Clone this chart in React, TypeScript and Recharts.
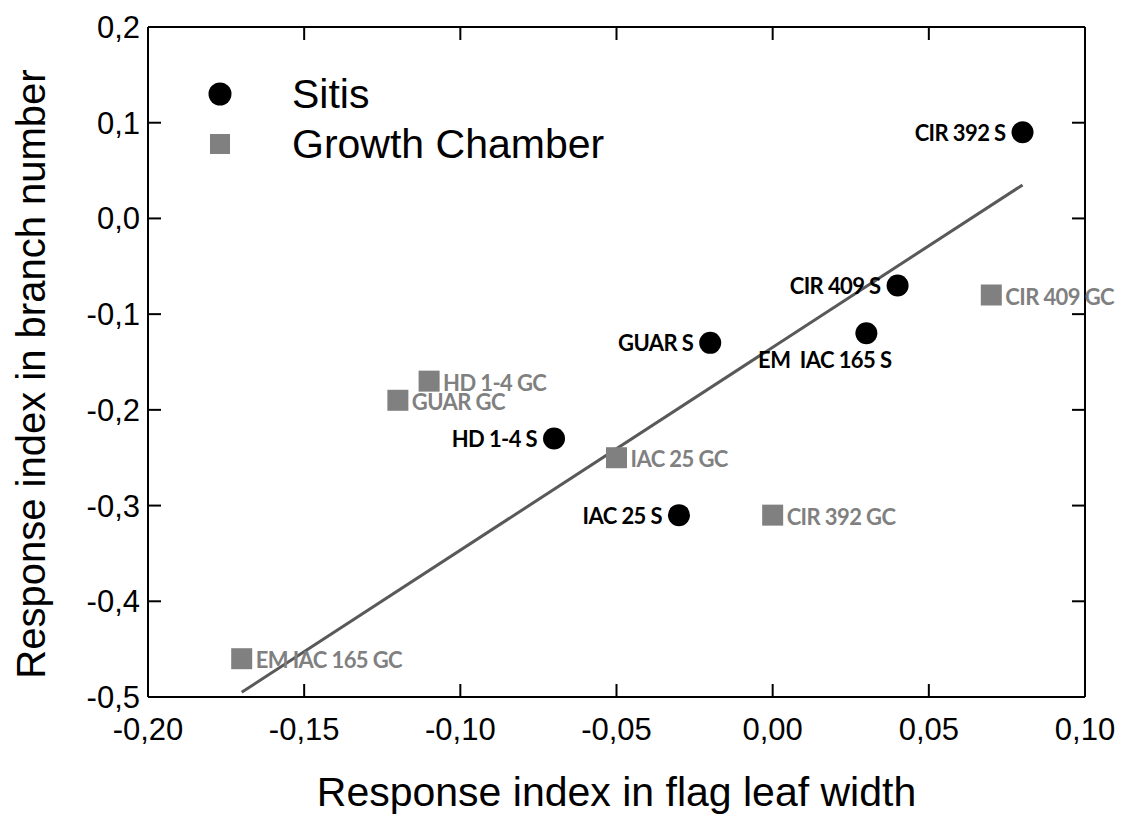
import { Legend, Scatter, ScatterChart, XAxis, YAxis } from "recharts";

const sitisNames = ["CIR 392 S", "CIR 409 S", "EM  IAC 165 S", "GUAR S", "HD 1-4 S", "IAC 25 S"];
const sitisX = [0.08, 0.04, 0.03, -0.02, -0.07, -0.03];
const sitisY = [0.09, -0.07, -0.12, -0.13, -0.23, -0.31];

const gcNames = ["CIR 409 GC", "HD 1-4 GC", "GUAR GC", "IAC 25 GC", "CIR 392 GC", "EM IAC 165 GC"];
const gcX = [0.07, -0.11, -0.12, -0.05, 0.0, -0.17];
const gcY = [-0.08, -0.17, -0.19, -0.25, -0.31, -0.46];

// regression line end points
const fitX = [-0.17, 0.08];
const fitY = [-0.495, 0.035];

const xTicks = [-0.2, -0.15, -0.1, -0.05, 0, 0.05, 0.1];
const yTicks = [0.2, 0.1, 0, -0.1, -0.2, -0.3, -0.4, -0.5];

const sitisData = sitisNames.map((name, i) => ({ name, x: sitisX[i], y: sitisY[i] }));
const gcData = gcNames.map((name, i) => ({ name, x: gcX[i], y: gcY[i] }));
const fitData = fitX.map((x, i) => ({ x, y: fitY[i] }));

const GRAY = "#808080";
const AXIS_FONT = "'Liberation Sans', Arial, sans-serif";
const LABEL_FONT = "Lato, 'Open Sans', sans-serif";

const fmtX = (v: number) => v.toFixed(2).replace(".", ",");
const fmtY = (v: number) => v.toFixed(1).replace(".", ",");

function SitisShape(props: any) {
  const { cx, cy, payload } = props;
  const below = payload.name.startsWith("EM");
  return (
    <g>
      <circle cx={cx} cy={cy} r={11} fill="#000" />
      <text
        x={below ? cx + 25 : cx - 17}
        y={below ? cy + 26 : cy}
        textAnchor="end"
        dominantBaseline="central"
        fontFamily={LABEL_FONT}
        fontWeight="bold"
        fontSize={22}
        letterSpacing={-0.6}
        fill="#000"
        style={{ whiteSpace: "pre" }}
      >
        {payload.name}
      </text>
    </g>
  );
}

function GcShape(props: any) {
  const { cx, cy, payload } = props;
  return (
    <g>
      <rect x={cx - 10.5} y={cy - 10.5} width={21} height={21} fill={GRAY} />
      <text
        x={cx + 14}
        y={cy + 1}
        textAnchor="start"
        dominantBaseline="central"
        fontFamily={LABEL_FONT}
        fontWeight="bold"
        fontSize={22}
        letterSpacing={-0.6}
        fill={GRAY}
      >
        {payload.name}
      </text>
    </g>
  );
}

function LegendBox() {
  return (
    <svg width={460} height={100}>
      <circle cx={20} cy={24} r={11.5} fill="#000" />
      <text x={92} y={38} fontFamily={AXIS_FONT} fontSize={41} fill="#000">
        Sitis
      </text>
      <rect x={10} y={64} width={20} height={20} fill={GRAY} />
      <text x={92} y={88} fontFamily={AXIS_FONT} fontSize={41} fill="#000">
        Growth Chamber
      </text>
    </svg>
  );
}

function YTitle(props: any) {
  const { viewBox } = props;
  const cy = viewBox.y + viewBox.height / 2 + 12;
  return (
    <text
      x={45}
      y={cy}
      transform={`rotate(-90, 45, ${cy})`}
      textAnchor="middle"
      fontFamily={AXIS_FONT}
      fontSize={40}
      fill="#000"
    >
      Response index in branch number
    </text>
  );
}

const tickStyle = { fontFamily: AXIS_FONT, fontSize: 31, fill: "#000" };
const axisLine = { stroke: "#000", strokeWidth: 2 };
const tickLine = { stroke: "#000", strokeWidth: 2 };

export default function App() {
  return (
    <div style={{ position: "absolute", left: 0, top: 0, background: "#fff" }}>
      <ScatterChart
        width={1121}
        height={819}
        margin={{ top: 26, right: 35, left: 0, bottom: 0 }}
      >
        <XAxis
          xAxisId="b"
          type="number"
          dataKey="x"
          domain={[-0.2, 0.1]}
          ticks={xTicks}
          tickFormatter={fmtX}
          height={122}
          tickSize={-13}
          tickMargin={34}
          tick={tickStyle}
          axisLine={axisLine}
          tickLine={tickLine}
          label={{
            value: "Response index in flag leaf width",
            position: "insideBottom",
            offset: 13,
            fontFamily: AXIS_FONT,
            fontSize: 41,
            fill: "#000",
          }}
        />
        <XAxis
          xAxisId="t"
          orientation="top"
          type="number"
          dataKey="x"
          domain={[-0.2, 0.1]}
          ticks={xTicks}
          height={1}
          tickSize={-13}
          tick={() => <g />}
          axisLine={axisLine}
          tickLine={tickLine}
        />
        <YAxis
          yAxisId="l"
          type="number"
          dataKey="y"
          domain={[-0.5, 0.2]}
          ticks={yTicks}
          tickFormatter={fmtY}
          width={148}
          tickSize={-13}
          tickMargin={21}
          tick={tickStyle}
          axisLine={axisLine}
          tickLine={tickLine}
          label={<YTitle />}
        />
        <YAxis
          yAxisId="r"
          orientation="right"
          type="number"
          dataKey="y"
          domain={[-0.5, 0.2]}
          ticks={yTicks}
          width={1}
          tickSize={-13}
          tick={() => <g />}
          axisLine={axisLine}
          tickLine={tickLine}
        />
        <Legend
          layout="vertical"
          align="center"
          verticalAlign="middle"
          content={() => <LegendBox />}
          wrapperStyle={{ left: 200, top: 70, width: 460, height: 100 }}
        />
        <Scatter
          xAxisId="t"
          yAxisId="r"
          data={fitData}
          line={{ stroke: "#595959", strokeWidth: 3 }}
          shape={() => <g />}
          legendType="none"
          isAnimationActive={false}
        />
        <Scatter
          name="Sitis"
          xAxisId="b"
          yAxisId="l"
          data={sitisData}
          shape={SitisShape}
          isAnimationActive={false}
        />
        <Scatter
          name="Growth Chamber"
          xAxisId="b"
          yAxisId="l"
          data={gcData}
          shape={GcShape}
          isAnimationActive={false}
        />
      </ScatterChart>
    </div>
  );
}
